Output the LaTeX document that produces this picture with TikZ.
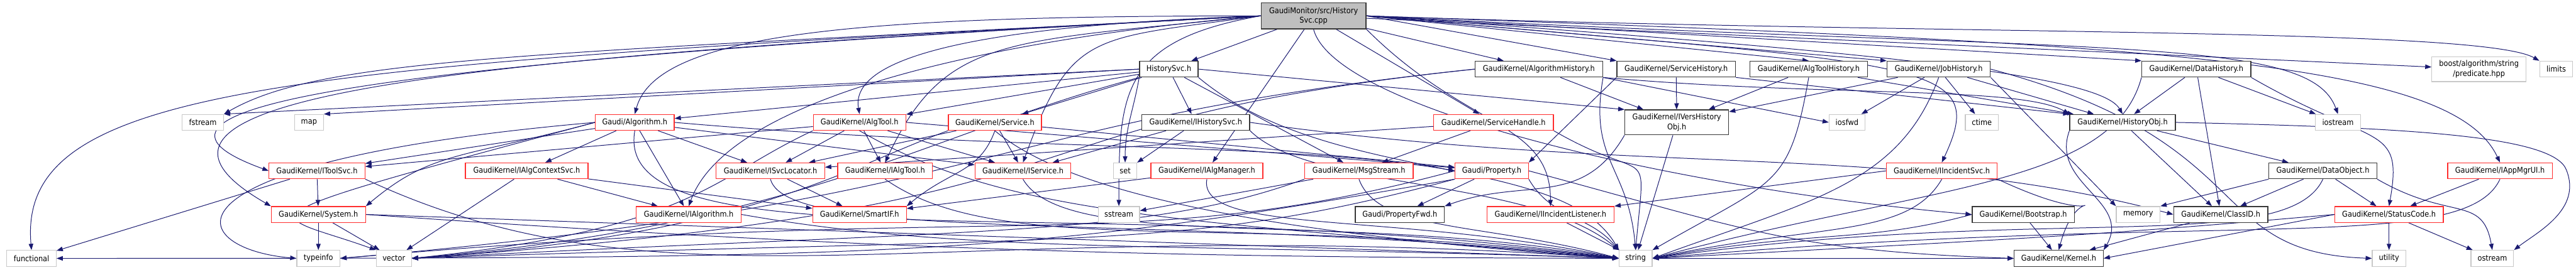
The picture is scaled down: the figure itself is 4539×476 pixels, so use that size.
\documentclass[tikz,border=0pt]{standalone}
\usepackage{fontspec}
\newfontfamily\dfont{DejaVu Sans Condensed}
\usetikzlibrary{arrows.meta,backgrounds,calc}
\definecolor{edgec}{RGB}{25,25,112}
\definecolor{redb}{RGB}{255,45,45}
\definecolor{grayb}{RGB}{200,200,200}
\definecolor{blackb}{RGB}{55,55,55}
\definecolor{topf}{RGB}{191,191,191}
\tikzset{
  nd/.style={draw=#1, line width=1.4pt, fill=white, inner sep=0pt, minimum height=28pt, align=center, font=\dfont\fontsize{14}{17}\selectfont},
  rn/.style={nd=redb},
  bn/.style={nd=blackb},
  gn/.style={nd=grayb},
  tn/.style={nd=blackb, fill=topf, minimum height=46pt},
  e/.style={draw=edgec, line width=1.1pt, -{Triangle[length=11pt,width=8pt]}}
}
\newcommand\edgecurve[4]{\draw[e] (#1) .. controls ($(#1)+(#2)$) and ($(#4)+(#3)$) .. (#4);}
\begin{document}
\begin{tikzpicture}[x=1pt,y=-1pt]
\useasboundingbox (0,0) rectangle (4539,476);
% row 1
\node[tn, minimum width=185pt] (T) at (2314.5,28) {GaudiMonitor/src/History\\Svc.cpp};
% row 2
\node[bn, minimum width=103pt] (HS) at (2059.5,122) {HistorySvc.h};
\node[bn, minimum width=225pt] (AH) at (2711.5,122) {GaudiKernel/AlgorithmHistory.h};
\node[bn, minimum width=209pt] (SH) at (2953.5,122) {GaudiKernel/ServiceHistory.h};
\node[bn, minimum width=208pt] (ATH) at (3187,122) {GaudiKernel/AlgToolHistory.h};
\node[bn, minimum width=182pt] (JH) at (3416,122) {GaudiKernel/JobHistory.h};
\node[bn, minimum width=192pt] (DH) at (3870,122) {GaudiKernel/DataHistory.h};
\node[gn, minimum width=166pt, minimum height=44pt] (BP) at (4368,122) {boost/algorithm/string\\/predicate.hpp};
\node[gn, minimum width=58pt] (LIM) at (4504,122) {limits};
% row 3
\node[gn, minimum width=73pt] (FS) at (357.5,216) {fstream};
\node[gn, minimum width=51pt] (MAP) at (544.5,216) {map};
\node[rn, minimum width=139pt] (GA) at (1118.5,216) {Gaudi/Algorithm.h};
\node[rn, minimum width=163pt] (AT) at (1514.5,216) {GaudiKernel/AlgTool.h};
\node[rn, minimum width=164pt] (SV) at (1753,216) {GaudiKernel/Service.h};
\node[bn, minimum width=190pt] (IHS) at (2107,216) {GaudiKernel/IHistorySvc.h};
\node[rn, minimum width=211pt] (SHD) at (2631.5,216) {GaudiKernel/ServiceHandle.h};
\node[bn, minimum width=183pt, minimum height=44pt] (IVHO) at (2954.5,216) {GaudiKernel/IVersHistory\\Obj.h};
\node[gn, minimum width=63pt] (IOF) at (3254.5,216) {iosfwd};
\node[gn, minimum width=58pt] (CT) at (3492,216) {ctime};
\node[bn, minimum width=186pt] (HO) at (3740,216) {GaudiKernel/HistoryObj.h};
\node[gn, minimum width=79pt] (IOS) at (4119.5,216) {iostream};
% row 4
\node[rn, minimum width=169pt] (ITS) at (558.5,301.5) {GaudiKernel/IToolSvc.h};
\node[rn, minimum width=216pt] (IACS) at (928,301.5) {GaudiKernel/IAlgContextSvc.h};
\node[rn, minimum width=191pt] (ISL) at (1357.5,301.5) {GaudiKernel/ISvcLocator.h};
\node[rn, minimum width=167pt] (IAT) at (1559.5,301.5) {GaudiKernel/IAlgTool.h};
\node[rn, minimum width=169pt] (ISV) at (1802.5,301.5) {GaudiKernel/IService.h};
\node[gn, minimum width=41pt] (SET) at (1982.5,301.5) {set};
\node[rn, minimum width=197pt] (IAM) at (2126.5,301.5) {GaudiKernel/IAlgManager.h};
\node[rn, minimum width=191pt] (MS) at (2394.5,301.5) {GaudiKernel/MsgStream.h};
\node[rn, minimum width=129pt] (PROP) at (2628.5,301.5) {Gaudi/Property.h};
\node[rn, minimum width=195pt] (IIS) at (3421.5,301.5) {GaudiKernel/IIncidentSvc.h};
\node[bn, minimum width=190pt] (DO) at (4093,301.5) {GaudiKernel/DataObject.h};
\node[rn, minimum width=184pt] (IAPP) at (4405,301.5) {GaudiKernel/IAppMgrUI.h};
% row 5
\node[rn, minimum width=166pt] (SYS) at (561,378.5) {GaudiKernel/System.h};
\node[rn, minimum width=185pt] (IA) at (1213.5,378.5) {GaudiKernel/IAlgorithm.h};
\node[rn, minimum width=165pt] (SIF) at (1514.5,378.5) {GaudiKernel/SmartIF.h};
\node[gn, minimum width=73pt] (SS) at (1971.5,378.5) {sstream};
\node[bn, minimum width=157pt] (PF) at (2466.5,378.5) {Gaudi/PropertyFwd.h};
\node[rn, minimum width=224pt] (IIL) at (2732,378.5) {GaudiKernel/IIncidentListener.h};
\node[bn, minimum width=180pt] (BS) at (3565,378.5) {GaudiKernel/Bootstrap.h};
\node[gn, minimum width=77pt] (MEM) at (3767.5,378.5) {memory};
\node[bn, minimum width=166pt] (CID) at (3913,378.5) {GaudiKernel/ClassID.h};
\node[rn, minimum width=191pt] (SC) at (4209.5,378.5) {GaudiKernel/StatusCode.h};
% row 6
\node[gn, minimum width=87pt] (FUN) at (55.5,456) {functional};
\node[gn, minimum width=76pt] (TI) at (561,456) {typeinfo};
\node[gn, minimum width=62pt] (VEC) at (694,456) {vector};
\node[gn, minimum width=58pt] (STR) at (2882,456) {string};
\node[bn, minimum width=157pt] (KER) at (3627.5,456) {GaudiKernel/Kernel.h};
\node[gn, minimum width=59pt] (UT) at (4209.5,456) {utility};
\node[gn, minimum width=75pt] (OST) at (4391.5,456) {ostream};
\coordinate (ho1) at (4522,300);

\begin{scope}[on background layer]
\fill[white] (0,0) rectangle (4539,476);
% top node
\draw[e] (T) -- (HS);
\draw[e] (T) -- (AH);
\draw[e] (T.east) -- (SH.north west);
\draw[e] (T.east) -- (ATH.north);
\draw[e] (T.east) -- (JH.north west);
\draw[e] (T.east) -- (DH.north west);
\draw[e] (T) -- (BP);
\edgecurve{T.east}{999.4,34.9}{-103.9,-60}{LIM.north west}
\edgecurve{T.east}{1298.2,68.0}{-51.3,-141.0}{IOS.north}
\edgecurve{T.east}{1399.1,48.9}{-84.5,-181.3}{IAPP.north}
\edgecurve{T.east}{996.2,87.2}{84.5,-181.3}{IIS.north}
\edgecurve{T.east}{897.8,62.8}{-40,-69.3}{HO.north}
\edgecurve{T.south}{38.8,144.9}{-498.1,-43.6}{BS.west}
\edgecurve{T.south east}{176.8,176.8}{0,-150}{IIL.north}
\draw[e] (T) -- (SHD);
\draw[e] (T) -- (IAM);
\edgecurve{T.west}{-246.2,43.4}{0,-200}{SS.north}
\edgecurve{T.west}{-700,0}{38.8,-144.9}{GA.north}
\edgecurve{T.west}{-399.8,14.0}{-20.8,-118.2}{AT.north}
\edgecurve{T.west}{-498.1,43.6}{68.4,-187.9}{IA.north}
\edgecurve{T.west}{-447.5,47.0}{105.7,-226.6}{IAT.north}
\edgecurve{T.west}{-297.1,41.8}{85.5,-234.9}{ISV.north}
\edgecurve{T.west}{-1298.2,68.0}{173.2,-100}{FS.north east}
\edgecurve{T.west}{-1697.7,89.0}{-26.1,-298.9}{FUN.north}
\edgecurve{T.west}{-1497.9,78.5}{-328.9,-119.7}{ITS.west}
\edgecurve{T.west}{-1398.1,73.3}{-346.4,-200}{SYS.north west}
% HistorySvc.h
\draw[e] (HS) -- (IHS);
\edgecurve{HS.south west}{-10.4,59.1}{0,-60}{SET.north}
\draw[e] (HS) -- (SV);
\draw[e] (HS) -- (AT);
\draw[e] (HS) -- (GA);
\draw[e] (HS.west) -- (FS.north east);
\draw[e] (HS.west) -- (MAP.north east);
\draw[e] (HS) -- (MS);
\draw[e] (HS.east) -- (IVHO.north west);
\edgecurve{HS.south east}{229.8,192.8}{-100,-173.2}{STR.north west}
\edgecurve{HS.south west}{-386.4,103.5}{697.3,-61.0}{VEC.east}
% IHistorySvc.h
\draw[e] (IHS) -- (ISV);
\draw[e] (IHS) -- (SET);
\edgecurve{IHS.south east}{106.1,106.1}{-153.2,-128.6}{STR.north west}
\edgecurve{IHS.east}{693.2,97.4}{-483.0,-129.4}{CID.west}
% Service.h
\draw[e] (SV) -- (ISV);
\edgecurve{SV.south}{-27.4,75.2}{76.6,-64.3}{SIF.north east}
\draw[e] (SV) -- (ISL);
\draw[e] (SV) -- (PROP);
\edgecurve{SV.south}{114.9,96.4}{-698.3,-48.8}{STR.west}
\edgecurve{SV.south west}{-187.9,68.4}{598.5,-41.9}{VEC.east}
% AlgTool.h
\draw[e] (AT) -- (IAT);
\draw[e] (AT) -- (ISV);
\draw[e] (AT) -- (ISL);
\draw[e] (AT) -- (ITS);
\draw[e] (AT.east) -- (PROP);
\edgecurve{AT.south}{259.8,150}{-797.0,-69.7}{STR.west}
\edgecurve{AT.south west}{-181.3,84.5}{497.3,-52.3}{VEC.east}
% Gaudi/Algorithm.h
\draw[e] (GA) -- (IACS);
\draw[e] (GA) -- (IA);
\draw[e] (GA) -- (ISL);
\draw[e] (GA) -- (ISV);
\edgecurve{GA.east}{597.7,52.3}{-295.4,-52.1}{PROP.west}
\draw[e] (GA) -- (ITS);
\edgecurve{GA.west}{-241.5,64.7}{114.9,-96.4}{SYS.north east}
\edgecurve{GA.south}{-43.4,246.2}{-891.2,-125.3}{STR.west}
\edgecurve{GA.west}{-797.0,69.7}{-199.2,-17.4}{TI.west}
\edgecurve{GA.west}{-676.1,181.2}{-187.9,-68.4}{VEC.north west}
% IAlgContextSvc.h
\draw[e] (IACS) -- (IA);
\draw[e] (IACS) -- (SIF);
\draw[e] (IACS) -- (VEC);
% ISvcLocator.h
\draw[e] (ISL) -- (SIF);
\edgecurve{ISL.south}{31.1,115.9}{-795.6,-83.6}{STR.west}
% others to string
\edgecurve{IA.east}{393.9,69.5}{-799.5,-27.9}{STR.west}
\edgecurve{IAT.south}{204.8,143.4}{-694.8,-85.3}{STR.west}
\edgecurve{ISV.south}{75,129.9}{-492.4,-86.8}{STR.west}
\draw[e] (IAM) -- (SIF);
\edgecurve{IAM.south}{-17.4,98.5}{-391.3,-83.2}{STR.west}
% System.h
\draw[e] (SYS) -- (TI);
\draw[e] (SYS) -- (VEC);
\edgecurve{SYS.east}{999.4,34.9}{-999.4,-34.9}{STR.west}
\edgecurve{SYS.east}{1197.1,83.7}{-1200,0}{KER.west}
% IToolSvc.h
\draw[e] (ITS) -- (SYS);
\draw[e] (ITS) -- (FUN);
\edgecurve{ITS.south east}{543.8,253.6}{-1197.1,-83.7}{STR.west}
% MsgStream.h
\draw[e] (MS) -- (SS);
\edgecurve{MS.south}{34.2,94.0}{-241.5,-64.7}{STR.west}
\edgecurve{MS.south west}{-281.9,102.6}{998.6,-52.3}{VEC.east}
% Property.h
\draw[e] (PROP) -- (PF);
\edgecurve{PROP.south east}{40,69.3}{-51.4,-61.3}{STR.north west}
\edgecurve{PROP.east}{386.4,103.5}{-399.8,-14.0}{KER.west}
\edgecurve{PROP.west}{-579.6,155.3}{1195.4,-104.6}{TI.east}
\edgecurve{PROP.south west}{-483.0,129.4}{1199.3,-41.9}{VEC.east}
\edgecurve{PROP.south west}{-787.8,138.9}{1500,0}{FUN.east}
% ServiceHandle.h
\draw[e] (SHD) -- (MS);
\edgecurve{SHD.south east}{173.2,100}{17.4,-199.2}{STR.north}
\draw[e] (SHD) -- (ISL);
% IIncidentListener.h
\draw[e] (IIL) -- (STR);
% IVersHistoryObj.h
\edgecurve{IVHO.south west}{-75,129.9}{141.0,-51.3}{PF.north east}
\draw[e] (IVHO) -- (STR);
% AlgorithmHistory.h
\draw[e] (AH) -- (IVHO);
\edgecurve{AH.south east}{398.5,34.9}{-86.6,-50}{HO.north west}
\draw[e] (AH.south east) -- (IOF.west);
\edgecurve{AH.south east}{-26.0,147.7}{-13.1,-149.4}{STR.north}
\edgecurve{AH.west}{-895.1,94.1}{1195.4,-104.6}{TI.east}
\edgecurve{AH.west}{-895.1,94.1}{1296.8,-90.7}{VEC.east}
% ServiceHistory.h
\draw[e] (SH) -- (IVHO);
\draw[e] (SH.south east) -- (HO.north west);
\draw[e] (SH.south west) -- (PROP.north east);
% AlgToolHistory.h
\draw[e] (ATH) -- (IVHO);
\draw[e] (ATH) -- (HO);
\edgecurve{ATH.south}{-34.7,197.0}{216.5,-125}{STR.north east}
% JobHistory.h
\draw[e] (JH) -- (IVHO);
\draw[e] (JH) -- (IOF);
\draw[e] (JH) -- (CT);
\draw[e] (JH) -- (HO);
\edgecurve{JH.south}{-68.4,187.9}{281.9,-102.6}{STR.east}
\draw[e] (JH.south east) -- (MEM.north west);
\edgecurve{JH.east}{483.0,129.4}{-299.8,-10.5}{UT.west}
% DataHistory.h
\draw[e] (DH) -- (HO);
\draw[e] (DH) -- (CID);
\draw[e] (DH) -- (IOS);
\edgecurve{DH.south east}{216.5,125}{26.0,-147.7}{SC.north}
\edgecurve{DH.south west}{-51.8,193.2}{483.0,-129.4}{STR.east}
% HistoryObj.h
\draw[e] (HO) -- (DO);
\draw[e] (HO) -- (CID);
\draw[e] (HO.east) .. controls (4250,225) and (4500,240) .. (ho1) .. controls (4550,370) and (4470,410) .. (OST.north east);
\edgecurve{HO.south west}{-34.2,94.0}{50,-86.6}{KER.north east}
% DataObject.h
\draw[e] (DO) -- (CID);
\draw[e] (DO) -- (SC);
\draw[e] (DO.south west) -- (MEM.north east);
\edgecurve{DO.south east}{129.9,75}{-17.4,-98.5}{OST.north}
\edgecurve{DO.south}{-63.4,135.9}{693.2,-97.4}{STR.east}
% IAppMgrUI.h
\draw[e] (IAPP) -- (SC);
\edgecurve{IAPP.south}{-63.4,135.9}{996.2,-87.2}{STR.east}
% StatusCode.h
\draw[e] (SC) -- (UT);
\draw[e] (SC) -- (OST);
\draw[e] (SC.west) -- (KER.east);
\edgecurve{SC.west}{-398.5,34.9}{699.0,-36.6}{STR.east}
% ClassID.h, Bootstrap.h
\draw[e] (CID) -- (KER);
\draw[e] (BS) -- (KER);
\edgecurve{BS.west}{-193.2,51.8}{295.4,-52.1}{STR.east}
% IIncidentSvc.h
\edgecurve{IIS.south east}{226.6,105.7}{38.8,-144.9}{KER.north}
\edgecurve{IIS.south}{-60,103.9}{293.4,-62.4}{STR.east}
\draw[e] (IIS.west) -- (IIL.north east);
\end{scope}
\end{tikzpicture}
\end{document}
